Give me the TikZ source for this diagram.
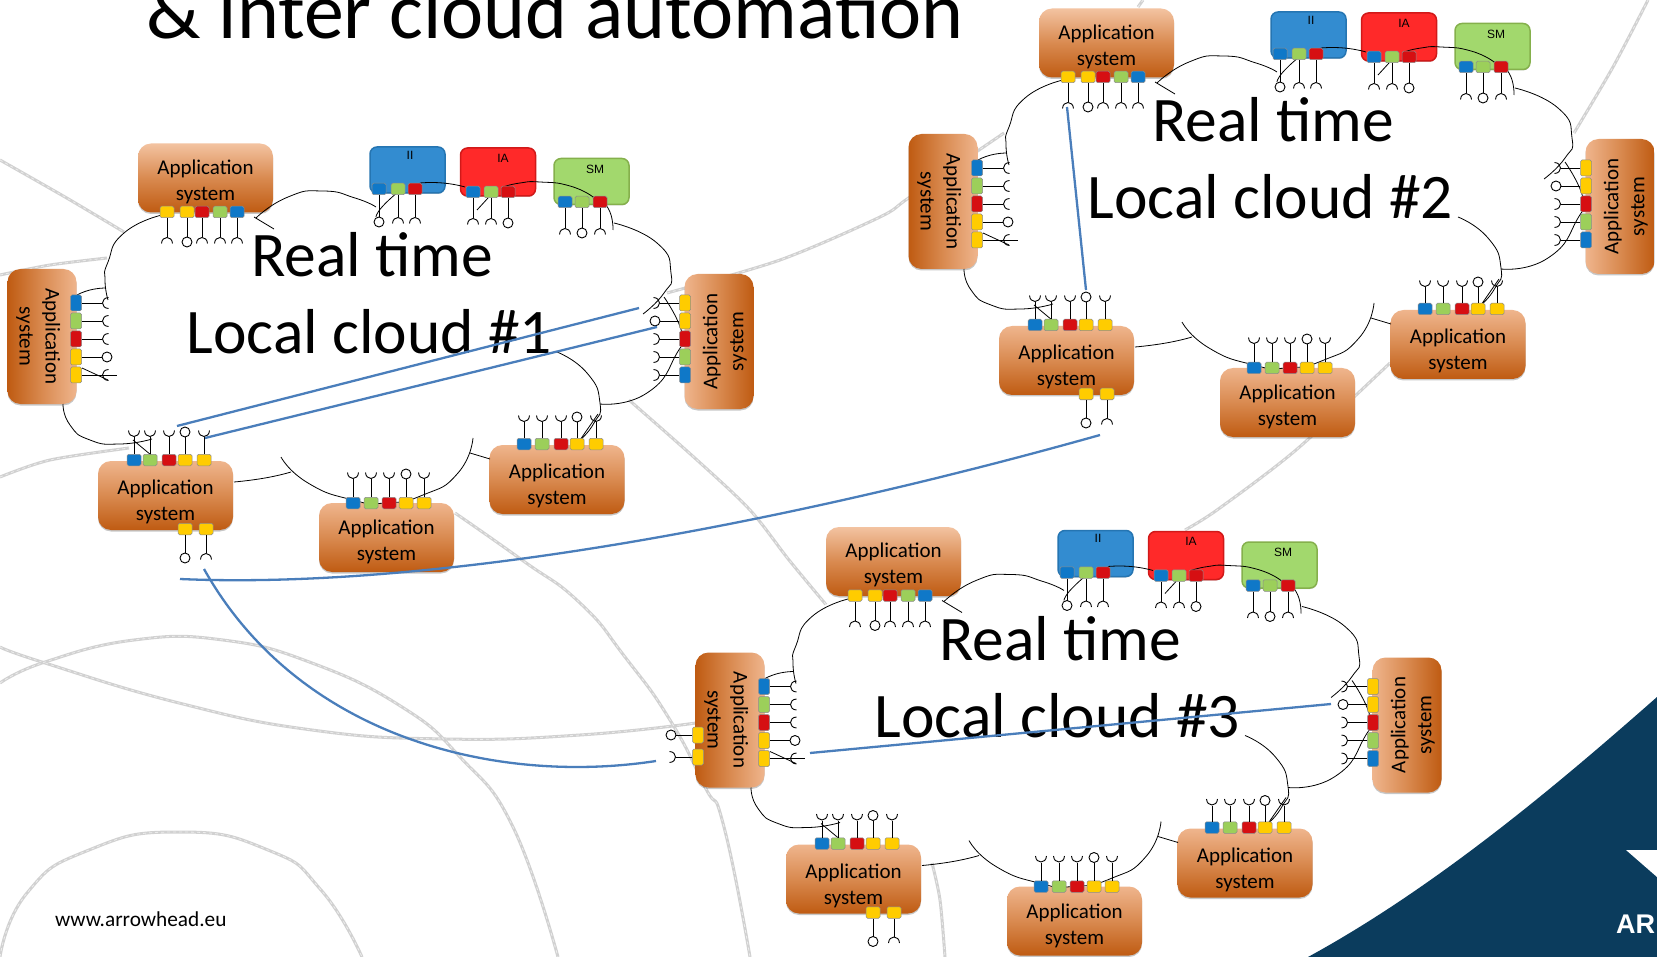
\documentclass[tikz,border=0pt]{standalone}
\usepackage{fontspec}
\setmainfont{Carlito}
\newfontfamily\arialf{Liberation Sans}
\usetikzlibrary{shadows}
\definecolor{py}{HTML}{FFCC00}
\definecolor{pr}{HTML}{D60F12}
\definecolor{pg}{HTML}{9CCF5A}
\definecolor{pb}{HTML}{0F78C8}
\definecolor{navy}{HTML}{0B3C5D}
\definecolor{lnblue}{HTML}{4A7EBB}
\definecolor{applight}{HTML}{EFB58D}
\definecolor{applighter}{HTML}{F3C3A1}
\definecolor{appmid}{HTML}{D98A50}
\definecolor{appdark}{HTML}{BF5B12}
\tikzset{
  x=1pt,y=-1pt,
  appbase/.style={rounded corners=13pt,minimum width=135pt,minimum height=69pt,inner sep=0pt,align=center,
    font=\fontsize{21}{26}\selectfont,
    drop shadow={shadow xshift=0pt,shadow yshift=-1.5pt,opacity=.22,fill=black}},
  appdown/.style={appbase,top color=#1,bottom color=appdark,middle color=appmid},
  appdown/.default=applight,
  appleft/.style={appbase,rotate=-90,left color=appdark,right color=applight,middle color=appmid},
  appright/.style={appbase,rotate=90,left color=applight,right color=appdark,middle color=appmid},
  svc/.style={rounded corners=7pt,minimum width=75pt,minimum height=46pt,inner sep=0pt,line width=1.5pt,
    drop shadow={shadow xshift=0pt,shadow yshift=-1pt,opacity=.2,fill=black}},
  hport/.style={rounded corners=1.5pt,minimum width=14pt,minimum height=11.5pt,inner sep=0pt,draw=black!45,line width=.5pt},
  vport/.style={rounded corners=1.5pt,minimum width=11pt,minimum height=16pt,inner sep=0pt,draw=black!45,line width=.5pt},
  stemline/.style={draw=black,line width=.9pt},
  lolly/.style={circle,draw=black,line width=.9pt,minimum size=10pt,inner sep=0pt},
  arcline/.style={draw=black,line width=.8pt},
  swirl/.style={draw=black!18,line width=3pt,postaction={draw=white,line width=.8pt,dash pattern=on 3pt off 3pt,opacity=.6}},
  linkline/.style={draw=lnblue,line width=2.3pt},
  cloudfill/.style={fill=white,draw=none},
  bigtext/.style={font=\fontsize{63.5}{75}\selectfont,anchor=base,inner sep=0pt},
  svclabel/.style={font=\arialf\fontsize{12}{14}\selectfont,inner sep=0pt},
}
\newcommand\oneport[9]{%
  \coordinate (#1-e) at (#4,#5);
  \node[#9,fill=#7] (#1) at (#2,#3) {};
  \draw[stemline] (#1) -- (#1-e);
  \begin{scope}[shift={(#4,#5)},rotate=#6]
    \if#8c\node[lolly] (#1-c) at (5,0) {};
    \else\draw[stemline] (6.5,-5.5) .. controls (-1.5,-5) and (-1.5,5) .. (6.5,5.5);\fi
  \end{scope}}
\newcommand\hrow[5]{\foreach \px/\pc/\pk [count=\pi] in {#5}{\oneport{#1-\pi}{\px}{#2}{\px}{#3}{#4}{\pc}{\pk}{hport}}}
\newcommand\vrow[5]{\foreach \py/\pc/\pk [count=\pi] in {#5}{\oneport{#1-\pi}{#2}{\py}{#3}{\py}{#4}{\pc}{\pk}{vport}}}
\newcommand\appnode[5]{\node[#4] (#1) at (#2,#3) {\rule{0pt}{#5pt}Application\\system};}
\newcommand\cloudcluster[4]{%
 \begin{scope}[shift={(#2,#3)}]
  \fill[cloudfill] plot[smooth cycle,tension=.6] coordinates {(162,215)(256,218)(323,191)(378,213)(448,182)(542,182)(614,223)(671,275)(662,297)(682,337)(667,375)(600,404)(580,440)(473,438)(423,495)(353,500)(281,457)(152,439)(90,441)(63,404)(77,295)(105,288)(106,277)(124,233)};
  % application systems and core services
  \appnode{#1-top}{205.5}{178}{appdown=applighter}{22}
  \node[svc,fill=pb!85!white,draw=pb!85!black!90] (#1-ii) at (407.5,170) {};
  \node[svc,fill=red!84!white,draw=red!80!black!90,minimum height=48pt] (#1-ia) at (498,172) {};
  \node[svc,fill=pg!85!white!95!green,draw=pg!85!black] (#1-sm) at (591.5,181.5) {};
  \node[svclabel] (#1-iit) at (410,155) {II};
  \node[svclabel] (#1-iat) at (503,158) {IA};
  \node[svclabel] (#1-smt) at (595,169) {SM};
  \appnode{#1-left}{42}{336.5}{appleft}{22}
  \appnode{#1-right}{719}{341.5}{appright}{26}
  \appnode{#1-bl}{165.5}{495.5}{appdown}{28}
  \appnode{#1-bm}{386.5}{537.5}{appdown}{24}
  \appnode{#1-br}{557}{479.5}{appdown}{28}
  % cloud outline
  \begin{scope}[smooth,tension=1]
  \draw[arcline] plot[smooth,tension=1] coordinates {(162,215)(124,233)(108,262)(105,280)(108,300)};
  \draw[arcline] plot[smooth,tension=1] coordinates {(77,295)(90,290)(105,288)};
  \draw[arcline] plot[smooth,tension=1] coordinates {(63,404)(70,425)(90,440)(120,444)(152,439)};
  \draw[arcline] (133,440) -- (151,455);
  \draw[arcline] plot[smooth,tension=1] coordinates {(234,482)(265,478)(291,472)};
  \draw[arcline] plot[smooth,tension=1] coordinates {(281,457)(308,483)(353,500)(385,503)(423,495)(458,473)(473,438)};
  \draw[arcline] (470,453) -- (490,459);
  \draw[arcline] plot[smooth,tension=1] coordinates {(557,352)(587,373)(600,403)(594,423)(580,440)};
  \draw[arcline] (580,440) -- (598,414);
  \draw[arcline] plot[smooth,tension=1] coordinates {(600,404)(647,393)(677,353)(682,333)(664,297)};
  \draw[arcline] plot[smooth,tension=1] coordinates {(643,314)(664,293)(671,273)(657,243)(614,223)};
  \draw[arcline] plot[smooth,tension=1] coordinates {(593,197)(608,208)(613,230)};
  \draw[arcline] plot[smooth,tension=1] coordinates {(503,187)(520,183)(540,182)(570,186)(593,197)};
  \draw[arcline] (477,210) -- (488,198);
  \draw[arcline] plot[smooth,tension=1] coordinates {(420,183)(443,183)(465,187)};
  \draw[arcline] plot[smooth,tension=1] coordinates {(256,218)(288,197)(323,191)(355,198)(376,207)};
  \draw[arcline] (254,217) -- (274,229);
  \draw[arcline] plot[smooth,tension=1] coordinates {(398,192)(382,207)(376,217)};
  \draw[arcline] (82,368) -- (108,380);
  \draw[arcline] (82,375) -- (117,375);
  \end{scope}
  % ports
  \hrow{#1-tp}{212}{237}{-90}{167/py/s,187/py/c,202/pr/s,220/pg/s,237/pb/s}
  \hrow{#1-iip}{189}{217}{-90}{379/pb/c,398/pg/s,415/pr/s}
  \hrow{#1-iap}{192}{218}{-90}{473/pb/s,491/pg/s,508/pr/c}
  \hrow{#1-smp}{202}{228}{-90}{565/pb/s,582/pg/c,600/pr/s}
  \vrow{#1-lp}{76}{102}{0}{303/pb/s,321/pg/s,339/pr/s,357/py/c,375/py/s}
  \vrow{#1-rp}{685}{660}{180}{303/py/s,321/py/c,339/pr/s,357/pg/s,375/pb/s}
  \hrow{#1-blp}{460}{437}{90}{134/pb/s,150/pg/s,169/pr/s,185/py/c,204/py/s}
  \hrow{#1-blx}{529}{553}{-90}{185/py/c,206/py/s}
  \hrow{#1-bmp}{503}{479}{90}{353/pb/s,371/pg/s,389/pr/s,406/py/c,424/py/s}
  \hrow{#1-brp}{444}{422}{90}{524/pb/s,542/pg/s,561/pr/s,577/py/c,596/py/s}
  % titles
  \node[bigtext] (#1-t1) at (372,277) {Real time};
  \node[bigtext] (#1-t2) at (369.5,353.5) {Local cloud #4};
 \end{scope}}
\begin{document}
\begin{tikzpicture}
\path[use as bounding box,clip] (0,0) rectangle (1657,957);
\fill[white] (0,0) rectangle (1657,957);
% background swirls
\draw[swirl] plot[smooth,tension=.8] coordinates {(0,647)(45,663)(179,703)(312,730)(446,739)(580,735)(696,723)};
\draw[swirl] plot[smooth,tension=.8] coordinates {(0,683)(45,662)(134,640)(223,640)(312,663)(402,707)(460,757)(513,827)(558,957)};
\draw[swirl] plot[smooth,tension=.9] coordinates {(455,513)(522,560)(580,603)(625,657)(670,720)(705,787)(724,827)(750,957)};
\draw[swirl] plot[smooth] coordinates {(0,160)(65,197)(124,232)};
\draw[swirl] plot[smooth] coordinates {(0,275)(50,265)(107,258)};
\draw[swirl] plot[smooth] coordinates {(0,477)(50,460)(129,448)};
\draw[swirl] plot[smooth] coordinates {(629,400)(697,460)(750,510)(789,560)(828,607)};
\draw[swirl] plot[smooth] coordinates {(932,863)(940,900)(945,957)};
\draw[swirl] plot[smooth] coordinates {(1185,530)(1217,510)(1296,450)(1390,363)};
\draw[swirl] plot[smooth] coordinates {(1574,133)(1613,67)(1648,0)};
\draw[swirl] plot[smooth] coordinates {(667,293)(780,260)(880,217)(910,197)(1004,133)};
\draw[swirl] (1138,7) -- (1143,0);
\draw[swirl] plot[smooth,tension=.9] coordinates {(0,957)(27,893)(89,850)(179,832)(268,850)(321,890)(362,957)};
% logo corner
\fill[navy] (1657,697) .. controls (1565,778) and (1440,885) .. (1308,957) -- (1657,957) -- cycle;
\fill[white] (1626,850) -- (1657,850) -- (1657,877) -- cycle;
\node[anchor=base west,inner sep=0pt,text=white,font=\arialf\bfseries\fontsize{27}{30}\selectfont] (logotext) at (1616,933) {AR};
% title
\node[anchor=base,inner sep=0pt,font=\fontsize{79.8}{88}\selectfont] (title) at (555,39) {\& inter cloud automation};
\node[anchor=base west,inner sep=0pt,font=\fontsize{21.3}{25}\selectfont] (site) at (55,926) {www.arrowhead.eu};
% clusters
\cloudcluster{ca}{0}{0}{\#1}
\cloudcluster{cb}{901}{-135}{\#2}
\cloudcluster{cc}{688}{383.5}{\#3}
% extra ports of cloud 3's left system
\begin{scope}[shift={(688,383.5)}]
\vrow{cc-lx}{10}{-12}{180}{351.5/py/c,373.5/py/s}
\end{scope}
% inter-system links
\coordinate (l1a) at (177,426); \coordinate (l1b) at (639,308);
\coordinate (l2a) at (205,438); \coordinate (l2b) at (657,327);
\coordinate (l3a) at (1067,107); \coordinate (l3b) at (1086,290);
\coordinate (l4a) at (180,579); \coordinate (l4b) at (1100,435);
\coordinate (l5a) at (204,569); \coordinate (l5b) at (656,761);
\coordinate (l6a) at (810,753); \coordinate (l6b) at (1331,704);
\draw[linkline] (l1a) -- (l1b);
\draw[linkline] (l2a) -- (l2b);
\draw[linkline] (l3a) -- (l3b);
\draw[linkline] (l4a) .. controls (430,590) and (780,525) .. (l4b);
\draw[linkline] (l5a) .. controls (300,740) and (500,785) .. (l5b);
\draw[linkline] (l6a) -- (l6b);
\end{tikzpicture}
\end{document}
